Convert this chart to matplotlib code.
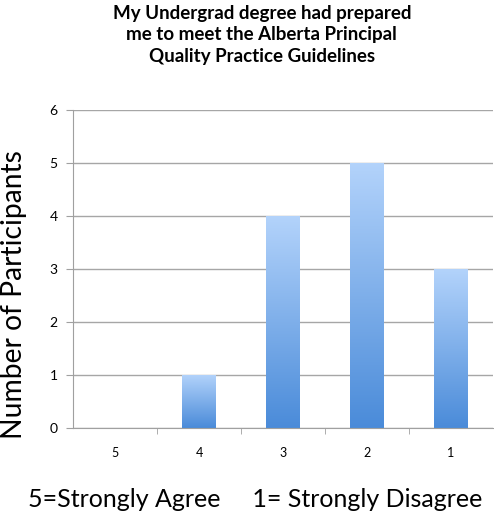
import numpy as np
import matplotlib
matplotlib.use("Agg")
import matplotlib.pyplot as plt
from matplotlib.colors import LinearSegmentedColormap

categories = ["5", "4", "3", "2", "1"]
participants = [0, 1, 4, 5, 3]
y_ticks = [0, 1, 2, 3, 4, 5, 6]

plt.rcParams["font.family"] = ["Lato", "DejaVu Sans"]

fig = plt.figure(figsize=(4.94, 5.14), dpi=100)
ax = fig.add_axes([73 / 494, 1 - 428 / 514, 420 / 494, 318 / 514])

x = np.arange(len(categories))
bars = ax.bar(x, participants, width=0.4, color="none", edgecolor="none")

# vertical gradient fill, light on top, darker at the base
grad = np.linspace(0, 1, 256).reshape(-1, 1)
cmap = LinearSegmentedColormap.from_list("bar", ["#4a8bd9", "#b3d3fb"])
for b in bars:
    h = b.get_height()
    if h <= 0:
        continue
    x0 = b.get_x()
    im = ax.imshow(grad, cmap=cmap, aspect="auto", origin="lower",
                   extent=(x0, x0 + b.get_width(), 0, h), zorder=2)
    im.set_clip_path(b)

ax.set_xlim(-0.5, len(categories) - 0.5)
ax.set_ylim(0, 6)
ax.set_yticks(y_ticks)
ax.set_xticks(x)
ax.set_xticklabels(categories)
ax.set_xticks(np.arange(0.5, len(categories) - 1, 1), minor=True)
ax.tick_params(axis="x", which="major", length=0, pad=14, labelsize=9)
ax.tick_params(axis="x", which="minor", length=4, color="#a0a0a0", direction="out")
ax.tick_params(axis="y", length=5, color="#a0a0a0", labelsize=10, pad=6)
ax.yaxis.grid(True, color="#a6a6a6", linewidth=1.0)
ax.set_axisbelow(True)
for side in ("top", "right"):
    ax.spines[side].set_visible(False)
for side in ("left", "bottom"):
    ax.spines[side].set_color("#a0a0a0")

ax.set_ylabel("Number of Participants", fontsize=20.3)
ax.yaxis.set_label_coords(-0.11, 0.42)
ax.set_xlabel("5=Strongly Agree     1= Strongly Disagree", fontsize=18)
ax.xaxis.set_label_coords(0.433, -0.19)
fig.suptitle("My Undergrad degree had prepared\nme to meet the Alberta Principal\nQuality Practice Guidelines",
             fontsize=13.5, fontweight="bold", y=0.99, x=0.53, linespacing=1.3)

fig.savefig("out.png", dpi=100)
